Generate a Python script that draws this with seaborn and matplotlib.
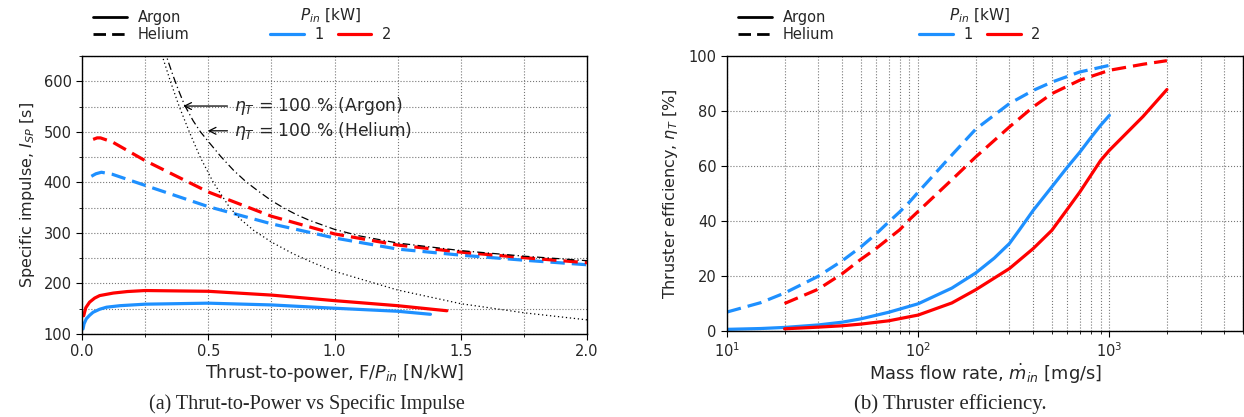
import numpy as np
import pandas as pd
import matplotlib
matplotlib.use("Agg")
import matplotlib.pyplot as plt
from matplotlib.ticker import MultipleLocator
from matplotlib.lines import Line2D
import seaborn as sns

# ---------------- Data: (a) thrust-to-power vs specific impulse ----------------
he1_tp = [0.037, 0.055, 0.077, 0.12, 0.25, 0.5, 0.75, 1.0, 1.25, 1.5, 1.75, 2.0]
he1_isp = [412, 417, 420, 416, 394, 352, 318, 290, 268, 256, 246, 237]
he2_tp = [0.044, 0.06, 0.073, 0.12, 0.25, 0.5, 0.75, 1.0, 1.25, 1.5, 1.75, 2.0]
he2_isp = [485, 488, 488, 480, 443, 381, 333, 298, 276, 262, 251, 241]
ar1_tp = [0.004, 0.008, 0.017, 0.03, 0.044, 0.07, 0.097, 0.15, 0.25, 0.5, 0.75, 1.0, 1.25, 1.38]
ar1_isp = [110, 120, 130, 137, 143, 149, 153, 156, 159, 161, 157.5, 151, 145, 139]
ar2_tp = [0.0066, 0.015, 0.03, 0.05, 0.07, 0.124, 0.18, 0.25, 0.5, 0.75, 1.0, 1.25, 1.445]
ar2_isp = [136, 152, 163, 171, 176, 181, 184, 186, 184.5, 177, 166, 156, 146]
# ideal (eta_T = 100 %) curves
ideal_he_tp = [0.325, 0.334, 0.36, 0.38, 0.406, 0.44, 0.469, 0.5, 0.55, 0.6, 0.65, 0.7,
               0.75, 0.8, 0.85, 0.9, 1.0, 1.1, 1.25, 1.5, 1.75, 2.0]
ideal_he_isp = [665, 650, 612, 585, 553, 522, 500, 481, 451, 424, 401, 382,
                364, 349, 336, 325, 307, 294, 280, 265, 254, 245]
ideal_ar_tp = [0.308, 0.318, 0.35, 0.385, 0.425, 0.468, 0.52, 0.585, 0.63, 0.68, 0.75,
               0.835, 0.92, 1.0, 1.25, 1.5, 1.75, 2.0]
ideal_ar_isp = [667, 650, 600, 550, 500, 450, 400, 350, 326, 305, 282,
                259, 240, 224, 187, 160, 142, 128]

# ---------------- Data: (b) thruster efficiency vs mass flow ----------------
he1_mdot = [10, 15, 20, 30, 40, 50, 60, 70, 80, 90, 100, 150, 200, 300, 400, 500, 700, 1000]
he1_eta = [6.9, 10.3, 13.8, 19.9, 25.5, 30.5, 35.2, 39.6, 43.3, 46.9, 50.5, 64.0, 73.4, 82.7, 87.5, 90.5, 94.2, 96.6]
he2_mdot = [20, 30, 40, 50, 60, 70, 80, 90, 100, 150, 200, 300, 400, 500, 700, 1000, 1500, 2000]
he2_eta = [10.0, 15.2, 20.8, 26.0, 29.9, 33.6, 36.8, 40.5, 43.5, 55.0, 63.3, 74.2, 81.5, 86.3, 91.2, 94.8, 97.0, 98.3]
ar1_mdot = [10, 15, 20, 30, 40, 50, 70, 100, 150, 200, 250, 300, 337, 400, 500, 600, 700, 800, 900, 1000]
ar1_eta = [0.6, 0.9, 1.3, 2.2, 3.2, 4.4, 6.8, 9.9, 15.6, 21.1, 26.5, 31.8, 36.6, 43.9, 52.4, 59.4, 65.0, 70.3, 74.8, 78.4]
ar2_mdot = [20, 30, 40, 50, 70, 100, 150, 200, 300, 400, 500, 600, 700, 800, 900, 1000, 1500, 2000]
ar2_eta = [0.8, 1.4, 1.9, 2.5, 3.7, 5.8, 10.2, 15.0, 22.7, 30.0, 36.6, 44.1, 50.5, 56.6, 62.0, 65.7, 78.0, 87.8]

BLUE = "#1E90FF"
RED = "#FF0000"
FS = 10.5      # ticks / legend
FXL = 12.8     # x-axis labels
FYL = 11.5     # y-axis labels


def long_df(series):
    rows = []
    for gas, power, xs, ys in series:
        for x, y in zip(xs, ys):
            rows.append({"x": x, "y": y, "gas": gas, "power": power})
    return pd.DataFrame(rows)


df_a = long_df([("Argon", "1", ar1_tp, ar1_isp), ("Argon", "2", ar2_tp, ar2_isp),
                ("Helium", "1", he1_tp, he1_isp), ("Helium", "2", he2_tp, he2_isp)])
df_b = long_df([("Argon", "1", ar1_mdot, ar1_eta), ("Argon", "2", ar2_mdot, ar2_eta),
                ("Helium", "1", he1_mdot, he1_eta), ("Helium", "2", he2_mdot, he2_eta)])

sns.set_style("ticks")
plt.rcParams["font.family"] = ["DejaVu Sans"]
plt.rcParams["mathtext.fontset"] = "dejavusans"

fig = plt.figure(figsize=(12.44, 4.17), dpi=100)
axA = fig.add_axes([82 / 1244, 1 - 334 / 417, 505 / 1244, 278 / 417])
axB = fig.add_axes([727 / 1244, 1 - 331 / 417, 516 / 1244, 275 / 417])

palette = {"1": BLUE, "2": RED}
dashes = {"Argon": "", "Helium": (4.5, 2.2)}

for ax, df in ((axA, df_a), (axB, df_b)):
    sns.lineplot(data=df, x="x", y="y", hue="power", style="gas", palette=palette,
                 dashes=dashes, estimator=None, sort=True, lw=2.3,
                 legend=False, ax=ax)

# ideal efficiency curves
n0 = len(axA.lines)
sns.lineplot(x=ideal_he_tp, y=ideal_he_isp, ax=axA, color="black", lw=0.9,
             sort=True, estimator=None)
axA.lines[n0].set_linestyle((0, (6, 2.5, 1, 2.5)))
sns.lineplot(x=ideal_ar_tp, y=ideal_ar_isp, ax=axA, color="black", lw=0.9,
             sort=True, estimator=None)
axA.lines[n0 + 1].set_linestyle((0, (1, 2.2)))

axA.annotate(r"$\eta_T$ = 100 % (Argon)", xy=(0.39, 551), xytext=(0.6, 551),
             va="center", ha="left", fontsize=12.3,
             arrowprops=dict(arrowstyle="->", color="black", lw=0.9))
axA.annotate(r"$\eta_T$ = 100 % (Helium)", xy=(0.487, 502), xytext=(0.6, 502),
             va="center", ha="left", fontsize=12.3,
             arrowprops=dict(arrowstyle="->", color="black", lw=0.9))

# axes A formatting
axA.set_xlim(0, 2.0)
axA.set_ylim(100, 650)
axA.xaxis.set_major_locator(MultipleLocator(0.5))
axA.xaxis.set_minor_locator(MultipleLocator(0.25))
axA.yaxis.set_major_locator(MultipleLocator(100))
axA.yaxis.set_minor_locator(MultipleLocator(50))
axA.set_xlabel(r"Thrust-to-power, F/$P_{in}$ [N/kW]", fontsize=FXL, labelpad=2)
axA.set_ylabel(r"Specific impulse, $I_{SP}$ [s]", fontsize=FYL, labelpad=5)

# axes B formatting
axB.set_xscale("log")
axB.set_xlim(10, 5000)
axB.set_ylim(0, 100)
axB.yaxis.set_major_locator(MultipleLocator(20))
axB.set_xlabel(r"Mass flow rate, $\dot{m}_{in}$ [mg/s]", fontsize=FXL, labelpad=1)
axB.set_ylabel(r"Thruster efficiency, $\eta_T$ [%]", fontsize=FYL, labelpad=6)

for ax in (axA, axB):
    ax.grid(True, which="both", ls=":", color="#777777", lw=0.8)
    ax.tick_params(which="both", labelsize=FS, direction="out", color="black")
    ax.tick_params(which="major", length=4)
    ax.tick_params(which="minor", length=2.5)
    for s in ax.spines.values():
        s.set_visible(True)
        s.set_color("black")
        s.set_linewidth(1.0)

    gas_handles = [Line2D([], [], color="black", lw=2, ls="-"),
                   Line2D([], [], color="black", lw=2, ls=(0, (4.5, 2.2)))]
    leg1 = ax.legend(gas_handles, ["Argon", "Helium"], loc="lower left",
                     bbox_to_anchor=(0.022, 1.05), frameon=False, fontsize=FS,
                     borderpad=0, borderaxespad=0, handlelength=2.3,
                     handletextpad=0.75, labelspacing=0.15)
    ax.add_artist(leg1)
    p_handles = [Line2D([], [], color=BLUE, lw=2.3), Line2D([], [], color=RED, lw=2.3)]
    leg2 = ax.legend(p_handles, ["1", "2"], title=r"$P_{in}$ [kW]", ncol=2,
                     loc="lower left", bbox_to_anchor=(0.373, 1.05), frameon=False,
                     fontsize=FS, title_fontsize=FS + 0.5, borderpad=0, borderaxespad=0,
                     handlelength=2.3, handletextpad=0.7, columnspacing=1.0,
                     labelspacing=0.15)

fig.text(307 / 1244, 1 - 404 / 417, "(a) Thrut-to-Power vs Specific Impulse",
         ha="center", va="center", fontsize=14.5, family="Liberation Serif")
fig.text(950 / 1244, 1 - 404 / 417, "(b) Thruster efficiency.",
         ha="center", va="center", fontsize=15, family="Liberation Serif")

fig.savefig("out.png", dpi=100)
